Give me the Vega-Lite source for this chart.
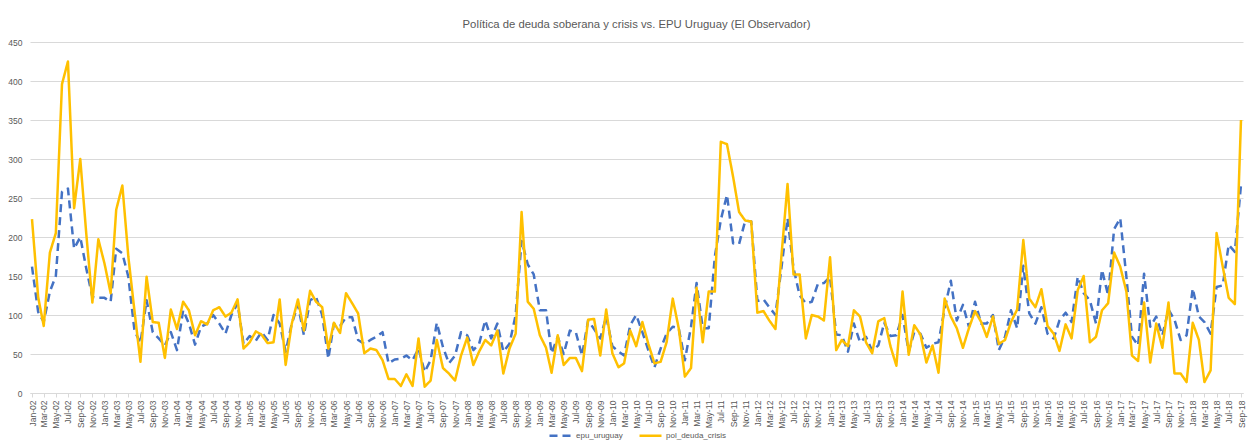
{
  "$schema": "https://vega.github.io/schema/vega-lite/v6.json",
  "width": 1213,
  "height": 351,
  "autosize": {"type": "none"},
  "padding": {"left": 30, "top": 42, "right": 10, "bottom": 52},
  "background": "white",
  "title": {
    "text": "Política de deuda soberana y crisis vs. EPU Uruguay (El Observador)",
    "anchor": "middle",
    "fontSize": 11.3,
    "font": "Liberation Sans, sans-serif",
    "fontWeight": "normal",
    "color": "#595959",
    "offset": 8
  },
  "config": {
    "view": {"stroke": null},
    "font": "Liberation Sans, sans-serif",
    "legend": {
      "orient": "none",
      "legendX": 518,
      "legendY": 381,
      "direction": "horizontal",
      "symbolType": "stroke",
      "symbolSize": 484,
      "symbolStrokeWidth": 2.5,
      "labelFontSize": 8,
      "labelColor": "#595959",
      "labelFont": "Liberation Sans, sans-serif",
      "columnPadding": 11,
      "labelOffset": 3
    }
  },
  "data": {
    "values": [
      {"d": "2002-01-01", "epu_uruguay": 162, "pol_deuda_crisis": 223},
      {"d": "2002-02-01", "epu_uruguay": 104, "pol_deuda_crisis": 123},
      {"d": "2002-03-01", "epu_uruguay": 91, "pol_deuda_crisis": 86},
      {"d": "2002-04-01", "epu_uruguay": 130, "pol_deuda_crisis": 180},
      {"d": "2002-05-01", "epu_uruguay": 150, "pol_deuda_crisis": 205},
      {"d": "2002-06-01", "epu_uruguay": 258, "pol_deuda_crisis": 396},
      {"d": "2002-07-01", "epu_uruguay": 262, "pol_deuda_crisis": 425},
      {"d": "2002-08-01", "epu_uruguay": 185, "pol_deuda_crisis": 237},
      {"d": "2002-09-01", "epu_uruguay": 200, "pol_deuda_crisis": 300},
      {"d": "2002-10-01", "epu_uruguay": 160, "pol_deuda_crisis": 205},
      {"d": "2002-11-01", "epu_uruguay": 123, "pol_deuda_crisis": 116},
      {"d": "2002-12-01", "epu_uruguay": 122, "pol_deuda_crisis": 197},
      {"d": "2003-01-01", "epu_uruguay": 122, "pol_deuda_crisis": 166},
      {"d": "2003-02-01", "epu_uruguay": 117, "pol_deuda_crisis": 128},
      {"d": "2003-03-01", "epu_uruguay": 185, "pol_deuda_crisis": 235},
      {"d": "2003-04-01", "epu_uruguay": 179, "pol_deuda_crisis": 266},
      {"d": "2003-05-01", "epu_uruguay": 149, "pol_deuda_crisis": 175},
      {"d": "2003-06-01", "epu_uruguay": 80, "pol_deuda_crisis": 105},
      {"d": "2003-07-01", "epu_uruguay": 64, "pol_deuda_crisis": 40},
      {"d": "2003-08-01", "epu_uruguay": 119, "pol_deuda_crisis": 149},
      {"d": "2003-09-01", "epu_uruguay": 78, "pol_deuda_crisis": 91},
      {"d": "2003-10-01", "epu_uruguay": 70, "pol_deuda_crisis": 90},
      {"d": "2003-11-01", "epu_uruguay": 61, "pol_deuda_crisis": 45},
      {"d": "2003-12-01", "epu_uruguay": 78, "pol_deuda_crisis": 107},
      {"d": "2004-01-01", "epu_uruguay": 55, "pol_deuda_crisis": 82},
      {"d": "2004-02-01", "epu_uruguay": 106, "pol_deuda_crisis": 117},
      {"d": "2004-03-01", "epu_uruguay": 89, "pol_deuda_crisis": 106},
      {"d": "2004-04-01", "epu_uruguay": 62, "pol_deuda_crisis": 74},
      {"d": "2004-05-01", "epu_uruguay": 85, "pol_deuda_crisis": 92},
      {"d": "2004-06-01", "epu_uruguay": 89, "pol_deuda_crisis": 88},
      {"d": "2004-07-01", "epu_uruguay": 100, "pol_deuda_crisis": 106},
      {"d": "2004-08-01", "epu_uruguay": 89, "pol_deuda_crisis": 110},
      {"d": "2004-09-01", "epu_uruguay": 76, "pol_deuda_crisis": 98},
      {"d": "2004-10-01", "epu_uruguay": 100, "pol_deuda_crisis": 103},
      {"d": "2004-11-01", "epu_uruguay": 115, "pol_deuda_crisis": 120},
      {"d": "2004-12-01", "epu_uruguay": 63, "pol_deuda_crisis": 57},
      {"d": "2005-01-01", "epu_uruguay": 73, "pol_deuda_crisis": 65},
      {"d": "2005-02-01", "epu_uruguay": 67, "pol_deuda_crisis": 79},
      {"d": "2005-03-01", "epu_uruguay": 78, "pol_deuda_crisis": 75},
      {"d": "2005-04-01", "epu_uruguay": 68, "pol_deuda_crisis": 64},
      {"d": "2005-05-01", "epu_uruguay": 100, "pol_deuda_crisis": 65},
      {"d": "2005-06-01", "epu_uruguay": 89, "pol_deuda_crisis": 120},
      {"d": "2005-07-01", "epu_uruguay": 53, "pol_deuda_crisis": 36},
      {"d": "2005-08-01", "epu_uruguay": 89, "pol_deuda_crisis": 89},
      {"d": "2005-09-01", "epu_uruguay": 113, "pol_deuda_crisis": 120},
      {"d": "2005-10-01", "epu_uruguay": 74, "pol_deuda_crisis": 80},
      {"d": "2005-11-01", "epu_uruguay": 119, "pol_deuda_crisis": 131},
      {"d": "2005-12-01", "epu_uruguay": 123, "pol_deuda_crisis": 117},
      {"d": "2006-01-01", "epu_uruguay": 100, "pol_deuda_crisis": 110},
      {"d": "2006-02-01", "epu_uruguay": 44, "pol_deuda_crisis": 57},
      {"d": "2006-03-01", "epu_uruguay": 89, "pol_deuda_crisis": 90},
      {"d": "2006-04-01", "epu_uruguay": 86, "pol_deuda_crisis": 77},
      {"d": "2006-05-01", "epu_uruguay": 97, "pol_deuda_crisis": 128},
      {"d": "2006-06-01", "epu_uruguay": 97, "pol_deuda_crisis": 115},
      {"d": "2006-07-01", "epu_uruguay": 68, "pol_deuda_crisis": 102},
      {"d": "2006-08-01", "epu_uruguay": 63, "pol_deuda_crisis": 51},
      {"d": "2006-09-01", "epu_uruguay": 68, "pol_deuda_crisis": 57},
      {"d": "2006-10-01", "epu_uruguay": 72, "pol_deuda_crisis": 55},
      {"d": "2006-11-01", "epu_uruguay": 78, "pol_deuda_crisis": 42},
      {"d": "2006-12-01", "epu_uruguay": 38, "pol_deuda_crisis": 18},
      {"d": "2007-01-01", "epu_uruguay": 43, "pol_deuda_crisis": 18},
      {"d": "2007-02-01", "epu_uruguay": 44, "pol_deuda_crisis": 9},
      {"d": "2007-03-01", "epu_uruguay": 48, "pol_deuda_crisis": 24},
      {"d": "2007-04-01", "epu_uruguay": 42, "pol_deuda_crisis": 9},
      {"d": "2007-05-01", "epu_uruguay": 57, "pol_deuda_crisis": 70},
      {"d": "2007-06-01", "epu_uruguay": 27, "pol_deuda_crisis": 8},
      {"d": "2007-07-01", "epu_uruguay": 42, "pol_deuda_crisis": 16},
      {"d": "2007-08-01", "epu_uruguay": 90, "pol_deuda_crisis": 68},
      {"d": "2007-09-01", "epu_uruguay": 59, "pol_deuda_crisis": 32},
      {"d": "2007-10-01", "epu_uruguay": 38, "pol_deuda_crisis": 25},
      {"d": "2007-11-01", "epu_uruguay": 48, "pol_deuda_crisis": 16},
      {"d": "2007-12-01", "epu_uruguay": 78, "pol_deuda_crisis": 48},
      {"d": "2008-01-01", "epu_uruguay": 74, "pol_deuda_crisis": 71},
      {"d": "2008-02-01", "epu_uruguay": 55, "pol_deuda_crisis": 36},
      {"d": "2008-03-01", "epu_uruguay": 63, "pol_deuda_crisis": 53},
      {"d": "2008-04-01", "epu_uruguay": 93, "pol_deuda_crisis": 68},
      {"d": "2008-05-01", "epu_uruguay": 70, "pol_deuda_crisis": 61},
      {"d": "2008-06-01", "epu_uruguay": 89, "pol_deuda_crisis": 80},
      {"d": "2008-07-01", "epu_uruguay": 53, "pol_deuda_crisis": 25},
      {"d": "2008-08-01", "epu_uruguay": 63, "pol_deuda_crisis": 57},
      {"d": "2008-09-01", "epu_uruguay": 100, "pol_deuda_crisis": 76},
      {"d": "2008-10-01", "epu_uruguay": 195, "pol_deuda_crisis": 232},
      {"d": "2008-11-01", "epu_uruguay": 165, "pol_deuda_crisis": 117},
      {"d": "2008-12-01", "epu_uruguay": 152, "pol_deuda_crisis": 108},
      {"d": "2009-01-01", "epu_uruguay": 106, "pol_deuda_crisis": 74},
      {"d": "2009-02-01", "epu_uruguay": 106, "pol_deuda_crisis": 58},
      {"d": "2009-03-01", "epu_uruguay": 51, "pol_deuda_crisis": 26},
      {"d": "2009-04-01", "epu_uruguay": 72, "pol_deuda_crisis": 74},
      {"d": "2009-05-01", "epu_uruguay": 50, "pol_deuda_crisis": 36},
      {"d": "2009-06-01", "epu_uruguay": 80, "pol_deuda_crisis": 45},
      {"d": "2009-07-01", "epu_uruguay": 78, "pol_deuda_crisis": 45},
      {"d": "2009-08-01", "epu_uruguay": 48, "pol_deuda_crisis": 28},
      {"d": "2009-09-01", "epu_uruguay": 93, "pol_deuda_crisis": 94},
      {"d": "2009-10-01", "epu_uruguay": 82, "pol_deuda_crisis": 95},
      {"d": "2009-11-01", "epu_uruguay": 70, "pol_deuda_crisis": 48},
      {"d": "2009-12-01", "epu_uruguay": 98, "pol_deuda_crisis": 107},
      {"d": "2010-01-01", "epu_uruguay": 60, "pol_deuda_crisis": 51},
      {"d": "2010-02-01", "epu_uruguay": 53, "pol_deuda_crisis": 33},
      {"d": "2010-03-01", "epu_uruguay": 48, "pol_deuda_crisis": 38},
      {"d": "2010-04-01", "epu_uruguay": 87, "pol_deuda_crisis": 80},
      {"d": "2010-05-01", "epu_uruguay": 100, "pol_deuda_crisis": 60},
      {"d": "2010-06-01", "epu_uruguay": 78, "pol_deuda_crisis": 91},
      {"d": "2010-07-01", "epu_uruguay": 55, "pol_deuda_crisis": 63},
      {"d": "2010-08-01", "epu_uruguay": 33, "pol_deuda_crisis": 38},
      {"d": "2010-09-01", "epu_uruguay": 57, "pol_deuda_crisis": 40},
      {"d": "2010-10-01", "epu_uruguay": 76, "pol_deuda_crisis": 65},
      {"d": "2010-11-01", "epu_uruguay": 85, "pol_deuda_crisis": 121},
      {"d": "2010-12-01", "epu_uruguay": 83, "pol_deuda_crisis": 83},
      {"d": "2011-01-01", "epu_uruguay": 42, "pol_deuda_crisis": 21},
      {"d": "2011-02-01", "epu_uruguay": 85, "pol_deuda_crisis": 32},
      {"d": "2011-03-01", "epu_uruguay": 141, "pol_deuda_crisis": 135},
      {"d": "2011-04-01", "epu_uruguay": 83, "pol_deuda_crisis": 65},
      {"d": "2011-05-01", "epu_uruguay": 83, "pol_deuda_crisis": 130},
      {"d": "2011-06-01", "epu_uruguay": 175, "pol_deuda_crisis": 130},
      {"d": "2011-07-01", "epu_uruguay": 222, "pol_deuda_crisis": 322},
      {"d": "2011-08-01", "epu_uruguay": 254, "pol_deuda_crisis": 319},
      {"d": "2011-09-01", "epu_uruguay": 192, "pol_deuda_crisis": 277},
      {"d": "2011-10-01", "epu_uruguay": 191, "pol_deuda_crisis": 232},
      {"d": "2011-11-01", "epu_uruguay": 221, "pol_deuda_crisis": 221},
      {"d": "2011-12-01", "epu_uruguay": 220, "pol_deuda_crisis": 220},
      {"d": "2012-01-01", "epu_uruguay": 118, "pol_deuda_crisis": 103},
      {"d": "2012-02-01", "epu_uruguay": 120, "pol_deuda_crisis": 105},
      {"d": "2012-03-01", "epu_uruguay": 110, "pol_deuda_crisis": 93},
      {"d": "2012-04-01", "epu_uruguay": 100, "pol_deuda_crisis": 82},
      {"d": "2012-05-01", "epu_uruguay": 160, "pol_deuda_crisis": 175},
      {"d": "2012-06-01", "epu_uruguay": 224, "pol_deuda_crisis": 268},
      {"d": "2012-07-01", "epu_uruguay": 160, "pol_deuda_crisis": 152},
      {"d": "2012-08-01", "epu_uruguay": 125, "pol_deuda_crisis": 152},
      {"d": "2012-09-01", "epu_uruguay": 115, "pol_deuda_crisis": 70},
      {"d": "2012-10-01", "epu_uruguay": 117, "pol_deuda_crisis": 100},
      {"d": "2012-11-01", "epu_uruguay": 140, "pol_deuda_crisis": 98},
      {"d": "2012-12-01", "epu_uruguay": 141, "pol_deuda_crisis": 93},
      {"d": "2013-01-01", "epu_uruguay": 149, "pol_deuda_crisis": 174},
      {"d": "2013-02-01", "epu_uruguay": 75, "pol_deuda_crisis": 55},
      {"d": "2013-03-01", "epu_uruguay": 74, "pol_deuda_crisis": 68},
      {"d": "2013-04-01", "epu_uruguay": 53, "pol_deuda_crisis": 60},
      {"d": "2013-05-01", "epu_uruguay": 89, "pol_deuda_crisis": 106},
      {"d": "2013-06-01", "epu_uruguay": 65, "pol_deuda_crisis": 98},
      {"d": "2013-07-01", "epu_uruguay": 72, "pol_deuda_crisis": 65},
      {"d": "2013-08-01", "epu_uruguay": 54, "pol_deuda_crisis": 51},
      {"d": "2013-09-01", "epu_uruguay": 61, "pol_deuda_crisis": 92},
      {"d": "2013-10-01", "epu_uruguay": 90, "pol_deuda_crisis": 96},
      {"d": "2013-11-01", "epu_uruguay": 73, "pol_deuda_crisis": 60},
      {"d": "2013-12-01", "epu_uruguay": 74, "pol_deuda_crisis": 35},
      {"d": "2014-01-01", "epu_uruguay": 100, "pol_deuda_crisis": 130},
      {"d": "2014-02-01", "epu_uruguay": 53, "pol_deuda_crisis": 49},
      {"d": "2014-03-01", "epu_uruguay": 78, "pol_deuda_crisis": 87},
      {"d": "2014-04-01", "epu_uruguay": 76, "pol_deuda_crisis": 75},
      {"d": "2014-05-01", "epu_uruguay": 58, "pol_deuda_crisis": 39},
      {"d": "2014-06-01", "epu_uruguay": 63, "pol_deuda_crisis": 61},
      {"d": "2014-07-01", "epu_uruguay": 65, "pol_deuda_crisis": 26},
      {"d": "2014-08-01", "epu_uruguay": 108, "pol_deuda_crisis": 121},
      {"d": "2014-09-01", "epu_uruguay": 144, "pol_deuda_crisis": 98},
      {"d": "2014-10-01", "epu_uruguay": 93, "pol_deuda_crisis": 83},
      {"d": "2014-11-01", "epu_uruguay": 113, "pol_deuda_crisis": 58},
      {"d": "2014-12-01", "epu_uruguay": 85, "pol_deuda_crisis": 83},
      {"d": "2015-01-01", "epu_uruguay": 117, "pol_deuda_crisis": 105},
      {"d": "2015-02-01", "epu_uruguay": 89, "pol_deuda_crisis": 91},
      {"d": "2015-03-01", "epu_uruguay": 89, "pol_deuda_crisis": 72},
      {"d": "2015-04-01", "epu_uruguay": 100, "pol_deuda_crisis": 98},
      {"d": "2015-05-01", "epu_uruguay": 55, "pol_deuda_crisis": 63},
      {"d": "2015-06-01", "epu_uruguay": 72, "pol_deuda_crisis": 68},
      {"d": "2015-07-01", "epu_uruguay": 106, "pol_deuda_crisis": 91},
      {"d": "2015-08-01", "epu_uruguay": 83, "pol_deuda_crisis": 107},
      {"d": "2015-09-01", "epu_uruguay": 163, "pol_deuda_crisis": 196},
      {"d": "2015-10-01", "epu_uruguay": 102, "pol_deuda_crisis": 121},
      {"d": "2015-11-01", "epu_uruguay": 89, "pol_deuda_crisis": 110},
      {"d": "2015-12-01", "epu_uruguay": 110, "pol_deuda_crisis": 133},
      {"d": "2016-01-01", "epu_uruguay": 76, "pol_deuda_crisis": 86},
      {"d": "2016-02-01", "epu_uruguay": 70, "pol_deuda_crisis": 76},
      {"d": "2016-03-01", "epu_uruguay": 93, "pol_deuda_crisis": 54},
      {"d": "2016-04-01", "epu_uruguay": 103, "pol_deuda_crisis": 88},
      {"d": "2016-05-01", "epu_uruguay": 91, "pol_deuda_crisis": 70},
      {"d": "2016-06-01", "epu_uruguay": 149, "pol_deuda_crisis": 132},
      {"d": "2016-07-01", "epu_uruguay": 128, "pol_deuda_crisis": 150},
      {"d": "2016-08-01", "epu_uruguay": 119, "pol_deuda_crisis": 65},
      {"d": "2016-09-01", "epu_uruguay": 89, "pol_deuda_crisis": 72},
      {"d": "2016-10-01", "epu_uruguay": 158, "pol_deuda_crisis": 106},
      {"d": "2016-11-01", "epu_uruguay": 125, "pol_deuda_crisis": 115},
      {"d": "2016-12-01", "epu_uruguay": 210, "pol_deuda_crisis": 180},
      {"d": "2017-01-01", "epu_uruguay": 224, "pol_deuda_crisis": 162},
      {"d": "2017-02-01", "epu_uruguay": 149, "pol_deuda_crisis": 130},
      {"d": "2017-03-01", "epu_uruguay": 72, "pol_deuda_crisis": 48},
      {"d": "2017-04-01", "epu_uruguay": 61, "pol_deuda_crisis": 41},
      {"d": "2017-05-01", "epu_uruguay": 153, "pol_deuda_crisis": 116},
      {"d": "2017-06-01", "epu_uruguay": 85, "pol_deuda_crisis": 39},
      {"d": "2017-07-01", "epu_uruguay": 98, "pol_deuda_crisis": 89},
      {"d": "2017-08-01", "epu_uruguay": 74, "pol_deuda_crisis": 58},
      {"d": "2017-09-01", "epu_uruguay": 107, "pol_deuda_crisis": 116},
      {"d": "2017-10-01", "epu_uruguay": 94, "pol_deuda_crisis": 25},
      {"d": "2017-11-01", "epu_uruguay": 68, "pol_deuda_crisis": 25},
      {"d": "2017-12-01", "epu_uruguay": 74, "pol_deuda_crisis": 14},
      {"d": "2018-01-01", "epu_uruguay": 134, "pol_deuda_crisis": 90},
      {"d": "2018-02-01", "epu_uruguay": 98, "pol_deuda_crisis": 68},
      {"d": "2018-03-01", "epu_uruguay": 91, "pol_deuda_crisis": 14},
      {"d": "2018-04-01", "epu_uruguay": 76, "pol_deuda_crisis": 29},
      {"d": "2018-05-01", "epu_uruguay": 136, "pol_deuda_crisis": 205},
      {"d": "2018-06-01", "epu_uruguay": 138, "pol_deuda_crisis": 162},
      {"d": "2018-07-01", "epu_uruguay": 190, "pol_deuda_crisis": 122},
      {"d": "2018-08-01", "epu_uruguay": 181, "pol_deuda_crisis": 114},
      {"d": "2018-09-01", "epu_uruguay": 267, "pol_deuda_crisis": 350}
    ]
  },
  "transform": [
    {"fold": ["epu_uruguay", "pol_deuda_crisis"], "as": ["series", "value"]}
  ],
  "mark": {"type": "line", "strokeWidth": 2.5, "strokeJoin": "round"},
  "encoding": {
    "x": {
      "field": "d",
      "type": "temporal",
      "scale": {
        "type": "utc",
        "domain": [
          {"year": 2002, "month": 1, "date": 1, "utc": true},
          {"year": 2018, "month": 9, "date": 1, "utc": true}
        ],
        "nice": false,
        "padding": 2
      },
      "axis": {
        "title": null,
        "labelExpr": "utcFormat(datum.value, '%b-%y')",
        "tickCount": {"interval": "month", "step": 2},
        "labelAngle": -90,
        "labelAlign": "right",
        "labelBaseline": "middle",
        "labelFontSize": 8.5,
        "labelColor": "#595959",
        "labelPadding": 3,
        "labelOverlap": false,
        "labelFlush": false,
        "grid": false,
        "domainColor": "#d9d9d9",
        "tickColor": "#d9d9d9",
        "tickSize": 4
      }
    },
    "y": {
      "field": "value",
      "type": "quantitative",
      "scale": {"domain": [0, 450], "nice": false},
      "axis": {
        "title": null,
        "values": [0, 50, 100, 150, 200, 250, 300, 350, 400, 450],
        "domain": false,
        "ticks": false,
        "grid": true,
        "gridColor": "#d9d9d9",
        "labelFontSize": 8.5,
        "labelColor": "#595959",
        "labelPadding": 8
      }
    },
    "color": {
      "field": "series",
      "type": "nominal",
      "scale": {"domain": ["epu_uruguay", "pol_deuda_crisis"], "range": ["#4472C4", "#FFC000"]},
      "legend": {"title": null}
    },
    "strokeDash": {
      "field": "series",
      "type": "nominal",
      "scale": {"domain": ["epu_uruguay", "pol_deuda_crisis"], "range": [[8, 5], [1, 0]]},
      "legend": {"title": null}
    }
  }
}
